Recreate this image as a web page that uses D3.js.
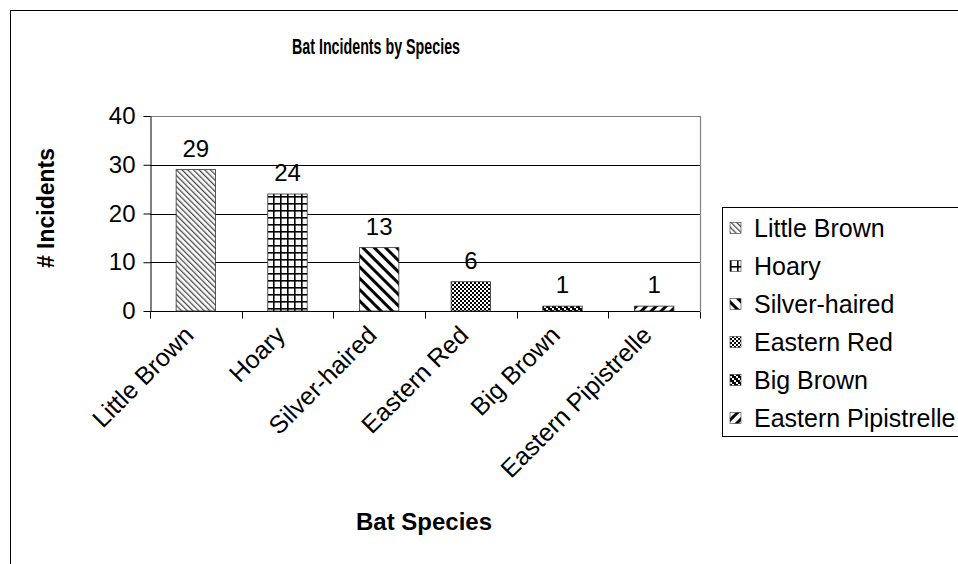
<!DOCTYPE html>
<html>
<head>
<meta charset="utf-8">
<script src="https://cdnjs.cloudflare.com/ajax/libs/d3/7.8.5/d3.min.js"></script>
<style>
  html, body { margin: 0; padding: 0; background: #fff; }
  svg { display: block; font-family: "Liberation Sans", Arial, sans-serif; }
</style>
</head>
<body>
<svg id="chart" width="958" height="564"></svg>
<script>
// Bat incident counts per species
const species = ["Little Brown", "Hoary", "Silver-haired", "Eastern Red", "Big Brown", "Eastern Pipistrelle"];
const incidents = [29, 24, 13, 6, 1, 1];
const yTicks = [0, 10, 20, 30, 40];
const patternIds = ["pLittle", "pHoary", "pSilver", "pRed", "pBig", "pPip"];

const svg = d3.select("#chart");
const W = 958, H = 564;
const FONT = 24;

const plot = { left: 150, right: 700, top: 116, bottom: 311 };

const x = d3.scaleBand().domain(species).range([plot.left, plot.right]).paddingInner(0.57).paddingOuter(0.285);
const xTick = d3.scaleBand().domain(species).range([plot.left, plot.right]);
const y = d3.scaleLinear().domain([0, 40]).range([plot.bottom, plot.top]);

// ----- fill patterns -----
const defs = svg.append("defs");

function pattern(id, w, h, draw, transform) {
  const p = defs.append("pattern").attr("id", id)
    .attr("patternUnits", "userSpaceOnUse").attr("width", w).attr("height", h);
  if (transform) p.attr("patternTransform", transform);
  p.append("rect").attr("width", w).attr("height", h).attr("fill", "#fff");
  draw(p);
}
// thin light downward diagonals
pattern("pLittle", 4, 4, p => {
  p.append("rect").attr("x", 0).attr("y", 0).attr("width", 1.3).attr("height", 4).attr("fill", "#4a4a4a");
}, "rotate(-45)");
// square grid
pattern("pHoary", 7, 7, p => {
  p.append("rect").attr("x", 0).attr("y", 0).attr("width", 7).attr("height", 1.6).attr("fill", "#000");
  p.append("rect").attr("x", 0).attr("y", 0).attr("width", 1.6).attr("height", 7).attr("fill", "#000");
});
// wide downward diagonals
pattern("pSilver", 8, 8, p => {
  p.append("rect").attr("x", 0).attr("y", 0).attr("width", 3).attr("height", 8).attr("fill", "#000");
}, "rotate(-45)");
// small checkerboard
pattern("pRed", 4, 4, p => {
  p.append("rect").attr("x", 0).attr("y", 0).attr("width", 2).attr("height", 2).attr("fill", "#000");
  p.append("rect").attr("x", 2).attr("y", 2).attr("width", 2).attr("height", 2).attr("fill", "#000");
});
// staggered horizontal dashes
pattern("pBig", 6, 6, p => {
  p.append("rect").attr("x", 0).attr("y", 0).attr("width", 4).attr("height", 2).attr("fill", "#000");
  p.append("rect").attr("x", 2).attr("y", 2).attr("width", 4).attr("height", 2).attr("fill", "#000");
  p.append("rect").attr("x", 4).attr("y", 4).attr("width", 2).attr("height", 2).attr("fill", "#000");
  p.append("rect").attr("x", 0).attr("y", 4).attr("width", 2).attr("height", 2).attr("fill", "#000");
});
// wide upward diagonals
pattern("pPip", 7, 7, p => {
  p.append("rect").attr("x", 0).attr("y", 0).attr("width", 3).attr("height", 7).attr("fill", "#000");
}, "rotate(45)");

// ----- outer chart frame -----
svg.append("rect").attr("x", 10.5).attr("y", 10.5).attr("width", W + 20).attr("height", H + 20)
  .attr("fill", "none").attr("stroke", "#000").attr("stroke-width", 1);

// ----- title -----
svg.append("text").attr("x", 376).attr("y", 54).attr("text-anchor", "middle")
  .attr("font-size", 22).attr("font-weight", "bold")
  .attr("textLength", 168).attr("lengthAdjust", "spacingAndGlyphs")
  .text("Bat Incidents by Species");

// ----- plot area border (top/right grey) -----
svg.append("path")
  .attr("d", `M${plot.left},${plot.top + 0.5}H${plot.right + 0.5}V${plot.bottom}`)
  .attr("fill", "none").attr("stroke", "#808080").attr("stroke-width", 1.2);

// gridlines
svg.append("g").selectAll("line").data(yTicks.filter(t => t > 0 && t < 40)).join("line")
  .attr("x1", plot.left).attr("x2", plot.right)
  .attr("y1", d => Math.round(y(d)) + 0.5).attr("y2", d => Math.round(y(d)) + 0.5)
  .attr("stroke", "#000").attr("stroke-width", 1);

// ----- y axis -----
const yAxis = svg.append("g").attr("transform", `translate(${plot.left + 0.5},0)`)
  .call(d3.axisLeft(y).tickValues(yTicks).tickSize(7).tickPadding(8).tickSizeOuter(0));
yAxis.select(".domain").attr("stroke", "#000");
yAxis.selectAll(".tick line").attr("stroke", "#000");
yAxis.selectAll(".tick text").attr("font-size", FONT).attr("font-family", "Liberation Sans, Arial, sans-serif").attr("fill", "#000");

svg.append("text")
  .attr("transform", `translate(54,208) rotate(-90)`)
  .attr("text-anchor", "middle").attr("font-size", 23).attr("font-weight", "bold")
  .text("# Incidents");

// ----- x axis -----
const xAxisG = svg.append("g").attr("transform", `translate(0,${plot.bottom + 0.5})`);
xAxisG.append("line").attr("x1", plot.left).attr("x2", plot.right).attr("stroke", "#000");
const boundaries = species.map(s => xTick(s)).concat([plot.right]);
xAxisG.selectAll("line.tk").data(boundaries).join("line").attr("class", "tk")
  .attr("x1", d => Math.round(d) + 0.5).attr("x2", d => Math.round(d) + 0.5)
  .attr("y1", 0).attr("y2", 7).attr("stroke", "#000");
xAxisG.selectAll("text").data(species).join("text")
  .attr("transform", d => `translate(${xTick(d) + xTick.bandwidth() / 2 - 7},19) rotate(-45)`)
  .attr("text-anchor", "end").attr("dy", "0.35em").attr("font-size", 25).text(d => d);

svg.append("text").attr("x", 424).attr("y", 530).attr("text-anchor", "middle")
  .attr("font-size", 24).attr("font-weight", "bold").text("Bat Species");

// ----- bars -----
svg.append("g").selectAll("rect").data(species).join("rect")
  .attr("x", d => x(d)).attr("width", x.bandwidth())
  .attr("y", (d, i) => y(incidents[i])).attr("height", (d, i) => y(0) - y(incidents[i]))
  .attr("fill", (d, i) => `url(#${patternIds[i]})`)
  .attr("stroke", "#333").attr("stroke-width", 0.8);

// value labels
svg.append("g").selectAll("text").data(species).join("text")
  .attr("x", d => x(d) + x.bandwidth() / 2)
  .attr("y", (d, i) => y(incidents[i]) - 13)
  .attr("text-anchor", "middle").attr("font-size", FONT)
  .text((d, i) => incidents[i]);

// ----- legend -----
const legend = svg.append("g");
legend.append("rect").attr("x", 722.5).attr("y", 207.5).attr("width", 260).attr("height", 229)
  .attr("fill", "#fff").attr("stroke", "#000");
const items = legend.selectAll("g.item").data(species).join("g").attr("class", "item")
  .attr("transform", (d, i) => `translate(730,${228 + i * 38})`);
items.append("rect").attr("x", 0).attr("y", -5.5).attr("width", 11).attr("height", 11)
  .attr("fill", (d, i) => `url(#${patternIds[i]})`).attr("stroke", "#333").attr("stroke-width", 0.6);
items.append("text").attr("x", 24).attr("y", 8.5).attr("font-size", 25).text(d => d);
</script>
</body>
</html>
